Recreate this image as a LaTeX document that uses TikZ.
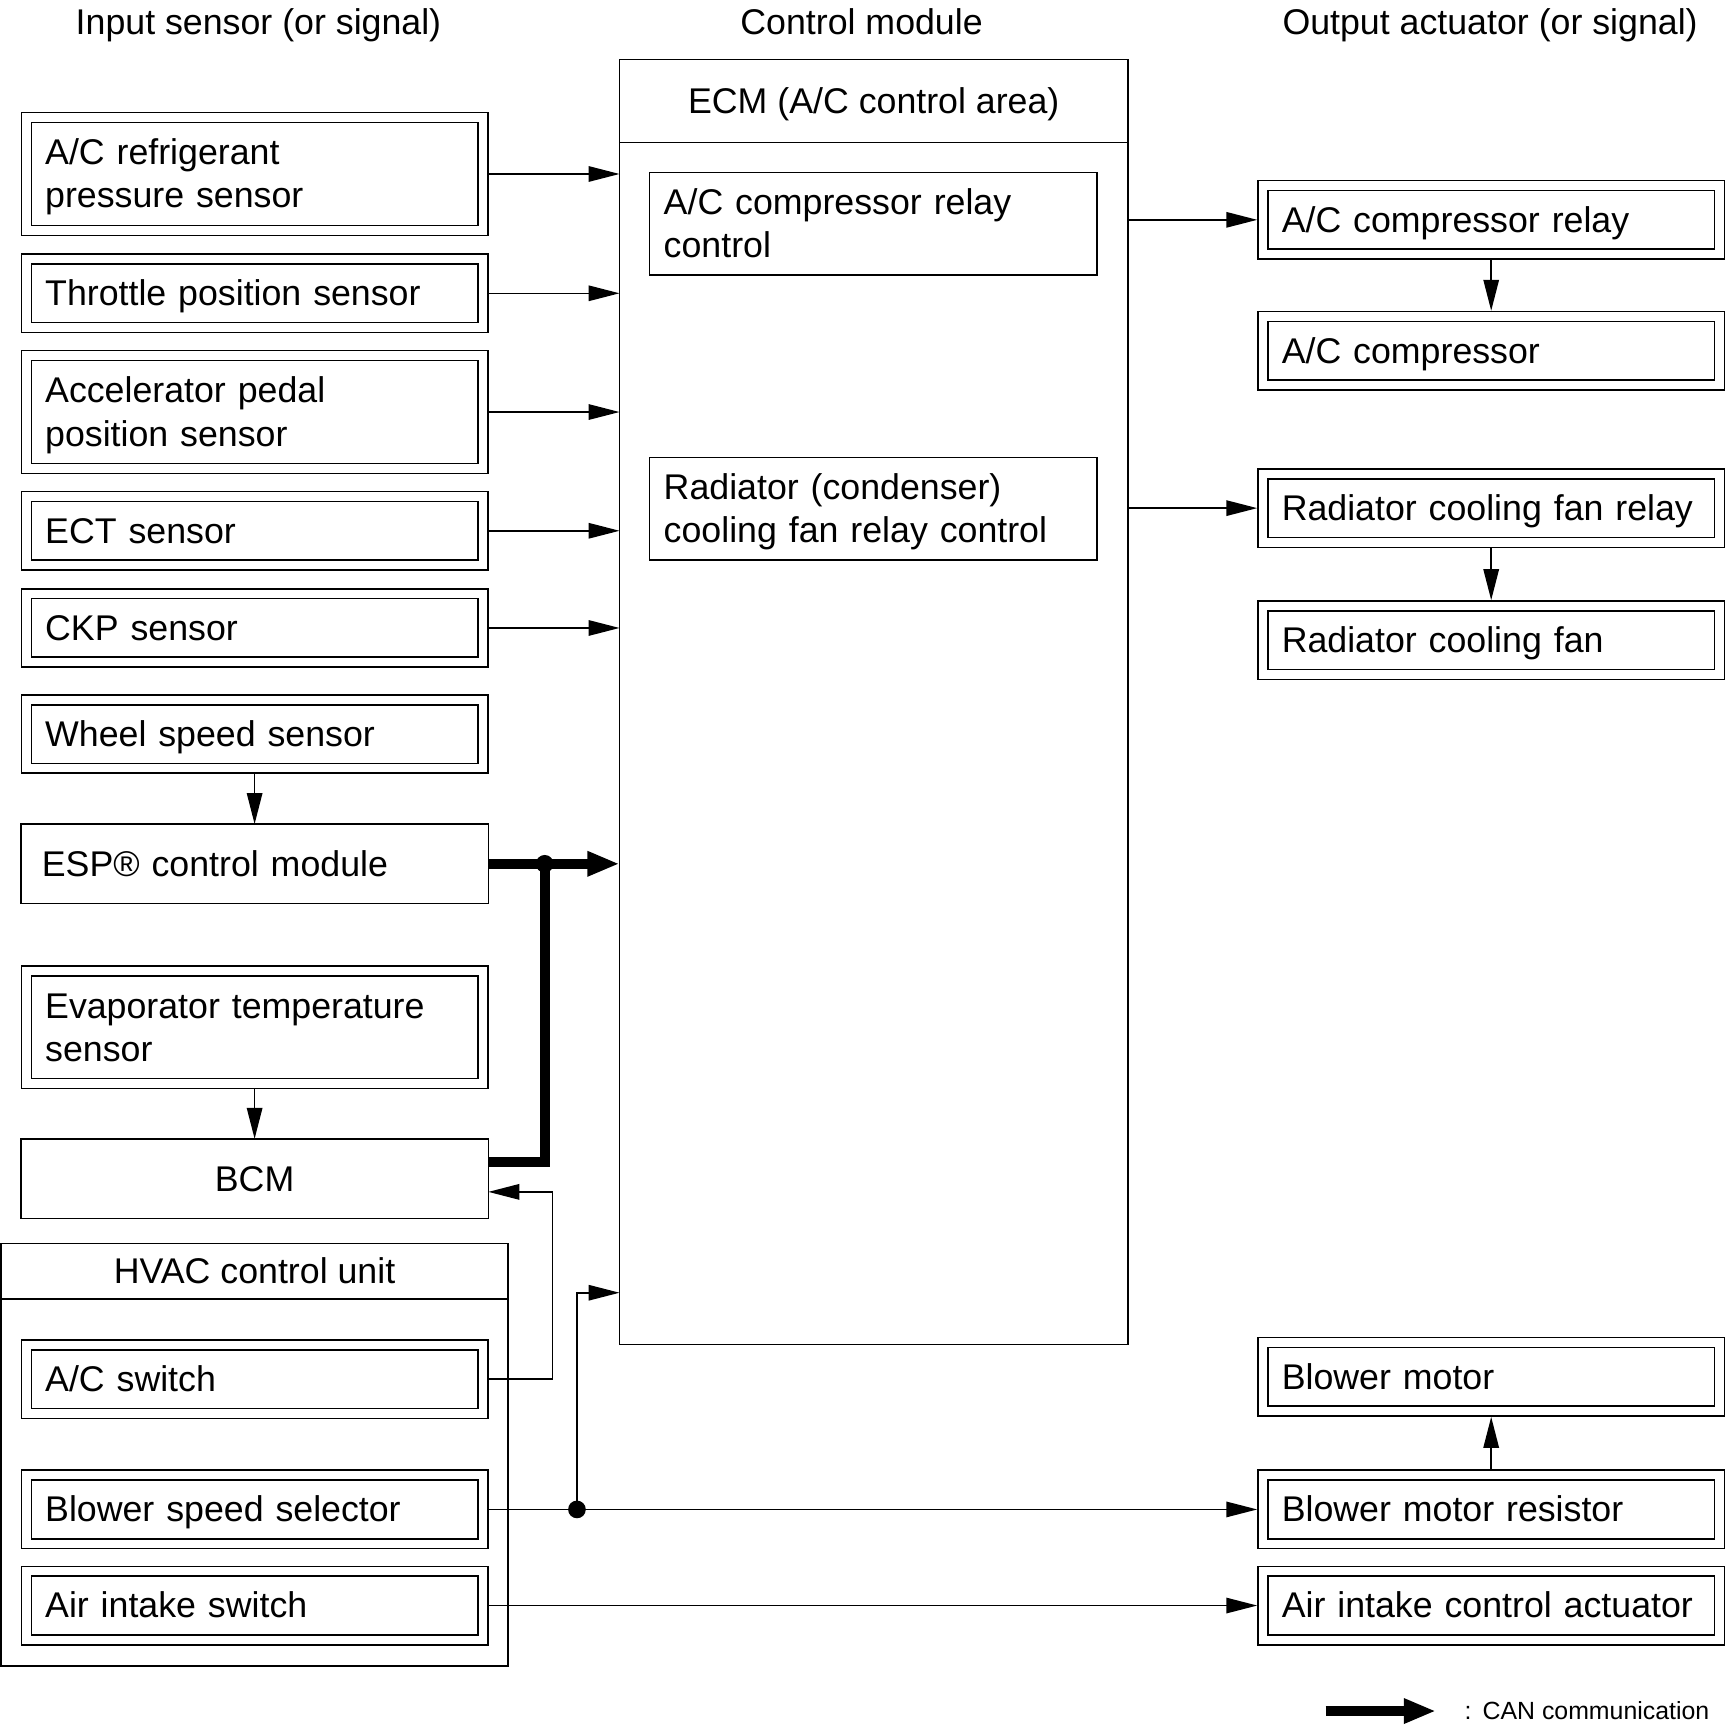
\documentclass[tikz,border=0pt]{standalone}
\usepackage{fontspec}
\setmainfont{Liberation Sans}
\usetikzlibrary{arrows.meta}
\newcommand\tstrut{\rule[-1.9pt]{0pt}{10.2pt}}

\begin{document}
\begin{tikzpicture}[x=0.01cm, y=-0.01cm,
  every node/.style={font=\fontsize{9.2}{11.1}\selectfont, outer sep=0pt},
  txt/.style={execute at begin node=\tstrut, execute at end node=\tstrut},
  head/.style={text height=6.6pt, text depth=0pt},
  box/.style={txt, draw, line width=0.4pt, minimum width=4.23cm, minimum height=0.72cm},
  lbox/.style={box, text width=3.85cm, inner xsep=0.19cm, align=left},
  dbox/.style={txt, draw, line width=0.4pt, double, double distance=0.076cm, outer sep=0.052cm,
    minimum width=4.13cm, minimum height=0.62cm, text width=3.79cm, inner xsep=0.17cm,
    inner ysep=0pt, align=left},
  ctlbox/.style={txt, draw, line width=0.4pt, minimum width=4.05cm, minimum height=0.93cm,
    text width=3.79cm, inner xsep=0.13cm, inner ysep=0pt, align=left},
  frame/.style={draw, line width=0.4pt},
  arr/.style={-{Triangle[length=0.28cm,width=0.14cm]}, line width=0.4pt},
  canline/.style={line width=0.09cm},
  can/.style={canline, -{Triangle[length=0.29cm,width=0.21cm]}}]
\useasboundingbox (0,0) rectangle (1564,1568);

\node[head] (hin) at (234,20) {Input sensor (or signal)};
\node[head] (hctl) at (780,20) {Control module};
\node[head] (hout) at (1349,20) {Output actuator (or signal)};

\node[frame, minimum width=4.60cm, minimum height=11.63cm] (ecm) at (791,635.5) {};
\node[txt, inner ysep=0pt, minimum width=4.60cm, minimum height=0.75cm] (ecmhead) at (791,91.5) {ECM (A/C control area)};
\draw[line width=0.4pt] (ecmhead.south west) -- (ecmhead.south east);
\node[ctlbox] (acctl) at (790.5,202.5) {A/C compressor relay\\control};
\node[ctlbox] (fanctl) at (790.5,460.5) {Radiator (condenser)\\cooling fan relay control};

\node[dbox, minimum height=1.02cm] (acp) at (230.5,157.5) {A/C refrigerant\\pressure sensor};
\node[dbox] (tps) at (230.5,265.5) {Throttle position sensor};
\node[dbox, minimum height=1.02cm] (apps) at (230.5,373) {Accelerator pedal\\position sensor};
\node[dbox] (ect) at (230.5,480.5) {ECT sensor};
\node[dbox] (ckp) at (230.5,568.5) {CKP sensor};
\node[dbox] (wss) at (230.5,664.5) {Wheel speed sensor};
\node[lbox] (esp) at (230.5,782) {ESP\textregistered\ control module};
\node[dbox, minimum height=1.02cm] (evap) at (230.5,930) {Evaporator temperature\\sensor};
\node[box] (bcm) at (230.5,1067) {BCM};

\node[frame, minimum width=4.59cm, minimum height=3.82cm] (hvac) at (230.5,1317) {};
\node[txt, inner ysep=0pt, minimum width=4.59cm, minimum height=0.50cm] (hvachead) at (230.5,1151) {HVAC control unit};
\draw[line width=0.4pt] (hvachead.south west) -- (hvachead.south east);
\node[dbox] (acsw) at (230.5,1248.5) {A/C switch};
\node[dbox] (bss) at (230.5,1366.5) {Blower speed selector};
\node[dbox] (ais) at (230.5,1453.5) {Air intake switch};

\node[dbox] (acrelay) at (1350,199) {A/C compressor relay};
\node[dbox] (accomp) at (1350,317.5) {A/C compressor};
\node[dbox] (fanrelay) at (1350,460) {Radiator cooling fan relay};
\node[dbox] (fan) at (1350,579.5) {Radiator cooling fan};
\node[dbox] (blower) at (1350,1246.5) {Blower motor};
\node[dbox] (blowres) at (1350,1366.5) {Blower motor resistor};
\node[dbox] (intake) at (1350,1453.5) {Air intake control actuator};

\draw[arr] (acp.east) -- (acp.east -| ecm.west);
\draw[arr] (tps.east) -- (tps.east -| ecm.west);
\draw[arr] (apps.east) -- (apps.east -| ecm.west);
\draw[arr] (ect.east) -- (ect.east -| ecm.west);
\draw[arr] (ckp.east) -- (ckp.east -| ecm.west);
\draw[arr] (wss.south) -- (esp.north);
\draw[arr] (evap.south) -- (bcm.north);

\path (esp.east) ++(51,0) coordinate (canjoin);
\draw[can] (esp.east) -- (esp.east -| ecm.west);
\draw[canline] ([yshift=0.15cm]bcm.east) -| (canjoin);
\fill (canjoin) circle[radius=0.08cm];

\draw[arr] (acsw.east) -- ++(58,0) |- ([yshift=-0.12cm]bcm.east);
\path (bss.east) ++(80,0) coordinate (blowjoin);
\draw[arr] (bss.east) -- (blowres.west);
\fill (blowjoin) circle[radius=0.08cm];
\draw[arr] (blowjoin) |- ([yshift=0.47cm]ecm.south west);
\draw[arr] (ais.east) -- (intake.west);

\draw[arr] (ecm.east |- acrelay.west) -- (acrelay.west);
\draw[arr] (ecm.east |- fanrelay.west) -- (fanrelay.west);
\draw[arr] (acrelay.south) -- (accomp.north);
\draw[arr] (fanrelay.south) -- (fan.north);
\draw[arr] (blowres.north) -- (blower.south);

\coordinate (legA) at (1200,1549);
\coordinate (legB) at (1300,1549);
\draw[can] (legA) -- (legB);
\node[anchor=west, inner sep=0pt, font=\fontsize{6.4}{7.7}\selectfont] (legtxt) at (1326,1549) {:\hspace{0.1cm}CAN communication};
\end{tikzpicture}
\end{document}
